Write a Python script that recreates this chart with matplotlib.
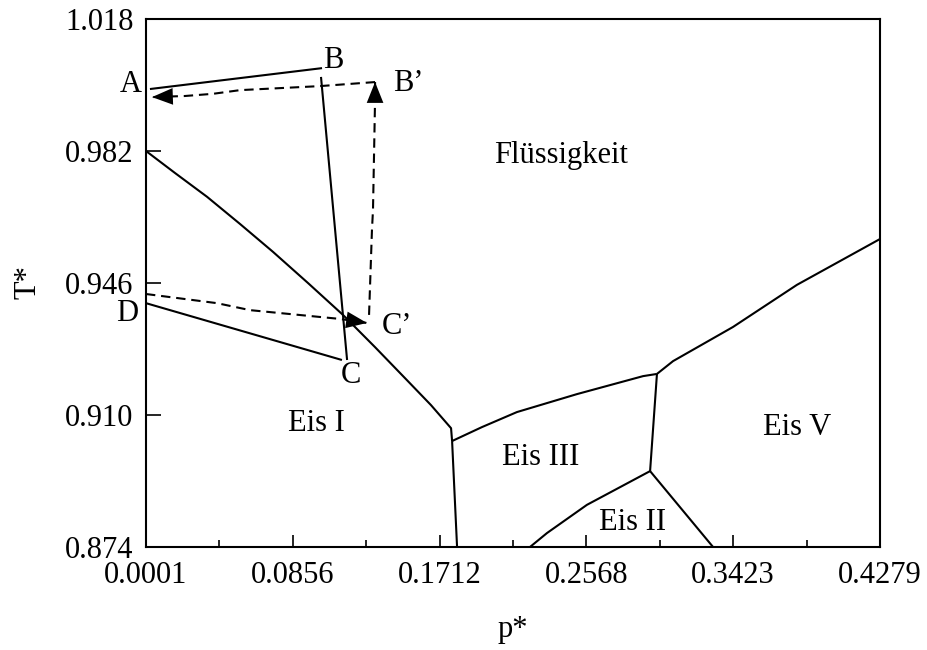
import matplotlib
matplotlib.use("Agg")
import matplotlib.pyplot as plt
import numpy as np

plt.rcParams['font.family'] = ['Liberation Serif', 'DejaVu Serif']

# phase boundaries (p*, T*)
liq_ice1_p = [0.0001, 0.0170, 0.0357, 0.0549, 0.0741, 0.0945, 0.1149, 0.1336, 0.1522, 0.1662, 0.1779, 0.1785]
liq_ice1_T = [0.9820, 0.9760, 0.9695, 0.9621, 0.9545, 0.9460, 0.9373, 0.9285, 0.9195, 0.9127, 0.9064, 0.9029]
ice1_ice3_p = [0.1785, 0.1814]
ice1_ice3_T = [0.9029, 0.8740]
liq_ice3_p = [0.1785, 0.1959, 0.2163, 0.2513, 0.2898, 0.2979]
liq_ice3_T = [0.9029, 0.9067, 0.9108, 0.9157, 0.9206, 0.9212]
liq_ice5_p = [0.2979, 0.3073, 0.3422, 0.3795, 0.4279]
liq_ice5_T = [0.9212, 0.9247, 0.9340, 0.9455, 0.9580]
ice3_ice5_p = [0.2979, 0.2939]
ice3_ice5_T = [0.9212, 0.8947]
ice2_ice5_p = [0.2939, 0.3306]
ice2_ice5_T = [0.8947, 0.8740]
ice2_ice3_p = [0.2939, 0.2571, 0.2338, 0.2239]
ice2_ice3_T = [0.8947, 0.8855, 0.8778, 0.8740]

# cycle A-B-C-D (solid)
ab_p = [0.0024, 0.1027]
ab_T = [0.9989, 1.0046]
bc_p = [0.1021, 0.1173]
bc_T = [1.0022, 0.9250]
cd_p = [0.0001, 0.1143]
cd_T = [0.9405, 0.9250]

# dashed path D -> C' -> B' -> A
dc_p = [0.0001, 0.0415, 0.0607, 0.1132, 0.1289]
dc_T = [0.9430, 0.9405, 0.9386, 0.9362, 0.9351]
cb_p = [0.1301, 0.1318, 0.1324, 0.1336, 0.1336]
cb_T = [0.9373, 0.9605, 0.9659, 0.9959, 1.0008]
ba_p = [0.1336, 0.1015, 0.0549, 0.0392, 0.0228, 0.0036]
ba_T = [1.0008, 0.9997, 0.9986, 0.9976, 0.9970, 0.9967]

labels = ["A", "B", "B\u2019", "Fl\u00fcssigkeit", "D", "C", "C\u2019",
          "Eis I", "Eis III", "Eis II", "Eis V"]
label_p = [-0.0086, 0.1091, 0.1528, 0.2420, -0.0110, 0.1196, 0.1464,
           0.0992, 0.2303, 0.2834, 0.3795]
label_T = [1.0000, 1.0068, 1.0005, 0.9809, 0.9378, 0.9209, 0.9340,
           0.9078, 0.8983, 0.8808, 0.9065]

xticks = [0.0001, 0.0856, 0.1712, 0.2568, 0.3423, 0.4279]
yticks = [0.874, 0.910, 0.946, 0.982, 1.018]

fig = plt.figure(figsize=(9.28, 6.5), dpi=100)
ax = fig.add_axes([146 / 928, 1 - 547 / 650, 734 / 928, 528 / 650])

lw = 1.5
for p, T in [(liq_ice1_p, liq_ice1_T), (ice1_ice3_p, ice1_ice3_T),
             (liq_ice3_p, liq_ice3_T), (liq_ice5_p, liq_ice5_T),
             (ice3_ice5_p, ice3_ice5_T), (ice2_ice5_p, ice2_ice5_T),
             (ice2_ice3_p, ice2_ice3_T),
             (ab_p, ab_T), (bc_p, bc_T), (cd_p, cd_T)]:
    ax.plot(p, T, color='black', lw=lw, solid_capstyle='butt')

for p, T in [(dc_p, dc_T), (cb_p, cb_T), (ba_p, ba_T)]:
    ax.plot(p, T, color='black', lw=lw, dashes=(4.5, 2.8))
    # arrow head at the end of each dashed path
    ax.annotate('', xy=(p[-1], T[-1]), xytext=(p[-2], T[-2]),
                arrowprops=dict(arrowstyle='-|>,head_length=0.5,head_width=0.2',
                                color='black', lw=0, mutation_scale=30,
                                shrinkA=0, shrinkB=0))

for s, x, y in zip(labels, label_p, label_T):
    ax.text(x, y, s, fontsize=22, ha='center', va='center', clip_on=False)

ax.set_xlim(xticks[0], xticks[-1])
ax.set_ylim(yticks[0], yticks[-1])
ax.set_xticks(xticks)
ax.set_xticklabels([str(v) for v in xticks])
ax.set_xticks([(a + b) / 2 for a, b in zip(xticks[:-1], xticks[1:])], minor=True)
ax.set_yticks(yticks)
ax.set_yticklabels(["%.3f" % v for v in yticks])

ax.tick_params(axis='x', which='major', direction='in', length=8.5, width=1.2,
               labelsize=22, pad=10)
ax.tick_params(axis='x', which='minor', direction='in', length=5, width=1.2)
ax.tick_params(axis='y', which='major', direction='in', length=11, width=1.2,
               labelsize=22, pad=9)
for sp in ax.spines.values():
    sp.set_linewidth(1.5)

fig.text(28 / 928, 1 - 282 / 650, "T*", fontsize=22, rotation=90,
         ha='center', va='center')
fig.text(513 / 928, 1 - 630 / 650, "p*", fontsize=22, ha='center', va='center')

fig.savefig("out.png", dpi=100)
